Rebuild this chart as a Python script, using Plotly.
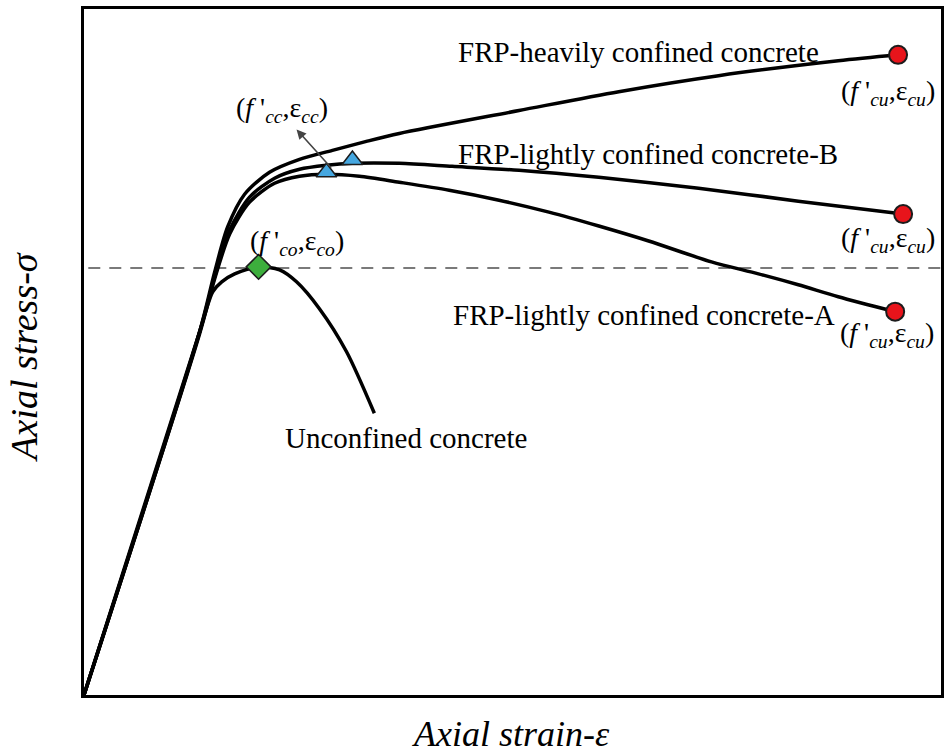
"""Schematic stress-strain curves for unconfined and FRP-confined concrete."""

import plotly.graph_objects as go

# curves in arbitrary units (strain 0-100, stress 0-100)
heavy_x = [0, 13.50, 15.25, 16.76, 18.74, 21.65, 25.15, 28.99, 32.95, 36.79, 50.76, 62.40, 74.04, 88.01, 94.99]
heavy_y = [0, 52.98, 61.68, 68.22, 73.00, 76.20, 78.08, 79.39, 80.70, 81.86, 85.20, 87.95, 90.28, 92.45, 93.32]

light_b_x = [0, 13.50, 15.25, 17.00, 19.32, 22.24, 25.15, 28.29, 31.32, 36.79, 42.96, 50.76, 60.07, 71.71, 83.35, 95.58]
light_b_y = [0, 52.98, 60.96, 67.78, 72.57, 75.33, 76.63, 77.21, 77.50, 77.50, 77.07, 76.49, 75.47, 73.88, 71.99, 70.10]

light_a_x = [0, 13.50, 15.25, 17.00, 19.32, 22.24, 25.15, 28.29, 32.13, 36.79, 42.61, 48.43, 54.25, 60.07, 65.89, 73.22, 78.70, 83.35, 88.01, 94.65]
light_a_y = [0, 52.69, 60.67, 67.20, 71.84, 74.60, 75.62, 75.91, 75.62, 74.75, 73.58, 72.13, 70.39, 68.36, 66.18, 63.13, 61.39, 59.80, 58.06, 55.88]

unconf_x = [0, 13.50, 15.02, 16.07, 17.58, 20.37, 22.82, 24.80, 27.47, 30.62, 33.88]
unconf_y = [0, 52.98, 58.78, 60.23, 61.39, 62.41, 61.97, 60.23, 56.31, 50.07, 41.07]

# characteristic points
peak_co = (20.37, 62.41)
peak_cc_x = [28.29, 31.32]
peak_cc_y = [76.20, 78.00]
ult_x = [94.99, 95.58, 94.65]
ult_y = [93.32, 70.10, 55.88]
fco_level = 62.26

SERIF = "Liberation Serif"

fig = go.Figure()

fig.add_trace(go.Scatter(x=[0.5, 100], y=[fco_level, fco_level], mode="lines",
                         line=dict(color="#7a7a7a", width=2, dash="12px,9px"),
                         hoverinfo="skip"))

for xs, ys in [(heavy_x, heavy_y), (light_b_x, light_b_y),
               (light_a_x, light_a_y), (unconf_x, unconf_y)]:
    fig.add_trace(go.Scatter(x=xs, y=ys, mode="lines",
                             line=dict(color="black", width=3.5, shape="spline", smoothing=0.8)))

fig.add_trace(go.Scatter(x=[peak_co[0]], y=[peak_co[1]], mode="markers",
                         marker=dict(symbol="diamond", size=19, color="#3dae3d",
                                     line=dict(color="#1c1c1c", width=1.5))))
fig.add_trace(go.Scatter(x=peak_cc_x, y=peak_cc_y, mode="markers",
                         marker=dict(symbol="triangle-up", size=18, color="#45a7e0",
                                     line=dict(color="#1c1c1c", width=1.5))))
fig.add_trace(go.Scatter(x=ult_x, y=ult_y, mode="markers",
                         marker=dict(symbol="circle", size=18, color="#e8141b",
                                     line=dict(color="#1c1c1c", width=2))))

# arrow pointing away from the confined peaks
fig.add_annotation(x=24.80, y=82.44, ax=28.99, ay=76.63, xref="x", yref="y",
                   axref="x", ayref="y", text="", showarrow=True,
                   arrowhead=2, arrowsize=1.2, arrowwidth=1.6, arrowcolor="#444444")

lab_font = dict(family=SERIF, size=28, color="black")
big_font = dict(family=SERIF, size=29, color="black")

cc = "(<i>f</i> '<sub><i>cc</i></sub>,ε<sub><i>cc</i></sub>)"
co = "(<i>f</i> '<sub><i>co</i></sub>,ε<sub><i>co</i></sub>)"
cu = "(<i>f</i> '<sub><i>cu</i></sub>,ε<sub><i>cu</i></sub>)"

fig.add_annotation(x=23.05, y=85.34, text=cc, showarrow=False, font=lab_font)
fig.add_annotation(x=24.91, y=65.89, text=co, showarrow=False, font=lab_font)
for ux, uy in [(93.83, 87.81), (93.83, 66.33), (93.71, 52.54)]:
    fig.add_annotation(x=ux, y=uy, text=cu, showarrow=False, font=lab_font)

fig.add_annotation(x=43.42, y=93.76, text="FRP-heavily confined concrete",
                   showarrow=False, xanchor="left", font=big_font)
fig.add_annotation(x=43.42, y=78.81, text="FRP-lightly confined concrete-B",
                   showarrow=False, xanchor="left", font=big_font)
fig.add_annotation(x=42.84, y=55.44, text="FRP-lightly confined concrete-A",
                   showarrow=False, xanchor="left", font=big_font)
fig.add_annotation(x=23.17, y=37.45, text="Unconfined concrete",
                   showarrow=False, xanchor="left", font=big_font)

fig.add_annotation(x=0.498, y=-0.089, xref="paper", yref="paper",
                   text="<i>Axial strain-ε</i>", showarrow=False,
                   font=dict(family=SERIF, size=36, color="black"))
fig.add_annotation(x=-0.097, y=0.493, xref="paper", yref="paper", textangle=-90,
                   text="<i>Axial stress-σ</i>", showarrow=False,
                   font=dict(family=SERIF, size=38, color="black"))

axis_style = dict(showgrid=False, zeroline=False, showticklabels=False, ticks="",
                  showline=True, linecolor="black", linewidth=3, mirror=True)
fig.update_xaxes(range=[0, 100], **axis_style)
fig.update_yaxes(range=[0, 100], **axis_style)

fig.update_layout(
    width=950, height=756,
    margin=dict(l=84, r=7, t=6, b=61),
    plot_bgcolor="white", paper_bgcolor="white",
    showlegend=False,
)

# the page's default body margin would shift the figure by 8px
fig.write_html("out.html", config={"displayModeBar": False},
               post_script="document.body.style.margin='0';")
